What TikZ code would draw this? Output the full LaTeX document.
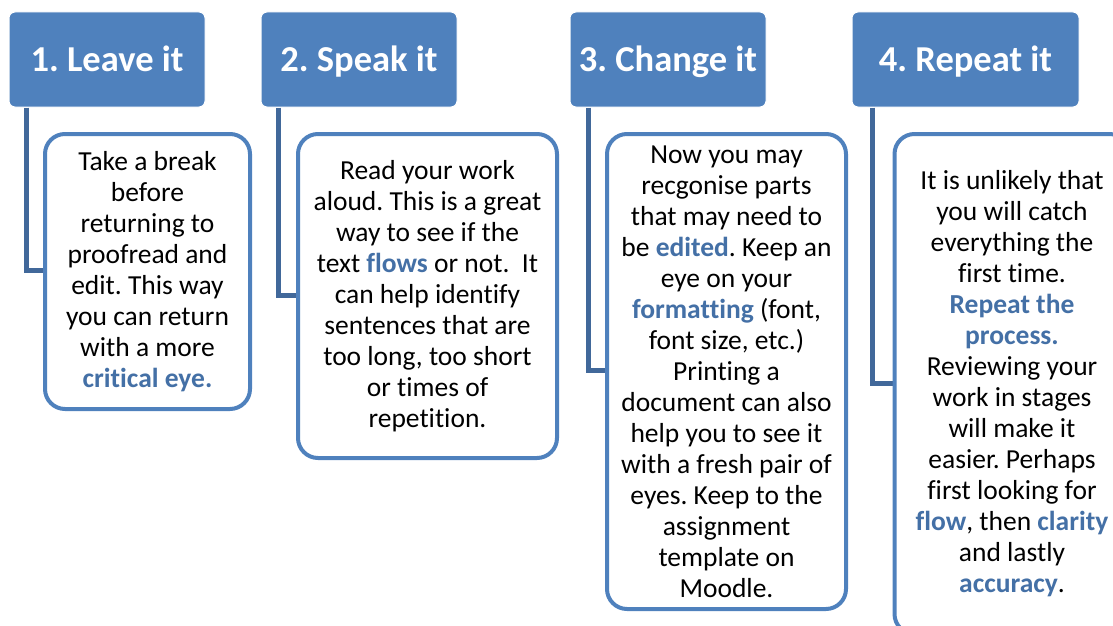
\documentclass[tikz,border=0pt]{standalone}
\usepackage{fontspec}
\setmainfont[Ligatures={NoCommon,NoContextual}]{Carlito}
\frenchspacing
\definecolor{headblue}{HTML}{4F81BD}
\definecolor{linkblue}{HTML}{41689A}
\definecolor{wordblue}{HTML}{4470A6}
\newcommand{\kw}[1]{\textbf{\textcolor{wordblue}{#1}}}
\begin{document}
\begin{tikzpicture}[x=1pt, y=-1pt,
  head/.style={rectangle, rounded corners=6pt, fill=headblue, draw=white, line width=1pt,
               text=white, font=\fontsize{36.5}{40}\selectfont\bfseries, minimum height=95pt,
               text height=23.5pt, text depth=0pt},
  note/.style={rectangle, rounded corners=20pt, draw=headblue, fill=white, line width=4pt,
               align=center, font=\fontsize{27.5}{31}\selectfont, inner sep=0pt},
  link/.style={draw=linkblue, line width=5pt}]
\useasboundingbox (0,0) rectangle (1113,626);
\begin{scope}
\clip (0,0) rectangle (1113,626);
% headers
\node[head, minimum width=196pt] (h1) at (107,59.5) {1. Leave it};
\node[head, minimum width=196pt] (h2) at (359,59.5) {2. Speak it};
\node[head, minimum width=196pt] (h3) at (668,59.5) {3. Change it};
\node[head, minimum width=227pt] (h4) at (965.5,59.5) {4. Repeat it};
% connectors
\coordinate (c1) at ([xshift=18pt]h1.south west);
\coordinate (c2) at ([xshift=18pt]h2.south west);
\coordinate (c3) at ([xshift=19pt]h3.south west);
\coordinate (c4) at ([xshift=21pt]h4.south west);
\coordinate (n1) at (45,270.5);
\coordinate (n2) at (298,295);
\coordinate (n3) at (607,370.5);
\coordinate (n4) at (895,383);
\draw[link] (c1) |- (n1);
\draw[link] (c2) |- (n2);
\draw[link] (c3) |- (n3);
\draw[link] (c4) |- (n4);
% text boxes
\node[note, minimum width=205pt, minimum height=275pt] (b1) at (147.5,271.5) {
  Take a break \\ before \\ returning to \\ proofread and \\ edit. This way \\
  you can return \\ with a more \\ \kw{critical eye.}};
\node[note, minimum width=259pt, minimum height=324pt] (b2) at (427.5,296) {
  Read your work \\ aloud. This is a great \\ way to see if the \\
  text \kw{flows} or not.~ It \\ can help identify \\ sentences that are \\
  too long, too short \\ or times of \\ repetition.};
\node[note, minimum width=239pt, minimum height=475pt] (b3) at (726.5,371.5) {
  Now you may \\ recgonise parts \\ that may need to \\ be \kw{edited}. Keep an \\
  eye on your \\ \kw{formatting} (font, \\ font size, etc.) \\ Printing a \\
  document can also \\ help you to see it \\ with a fresh pair of \\
  eyes. Keep to the \\ assignment \\ template on \\ Moodle.};
\node[note, minimum width=235pt, minimum height=500pt] (b4) at (1012,384) {
  It is unlikely that \\ you will catch \\ everything the \\ first time. \\
  \kw{Repeat the} \\ \kw{process.} \\ Reviewing your \\ work in stages \\
  will make it \\ easier. Perhaps \\ first looking for \\
  \kw{flow}, then \kw{clarity} \\ and lastly \\ \kw{accuracy}.};
\end{scope}
\end{tikzpicture}
\end{document}
